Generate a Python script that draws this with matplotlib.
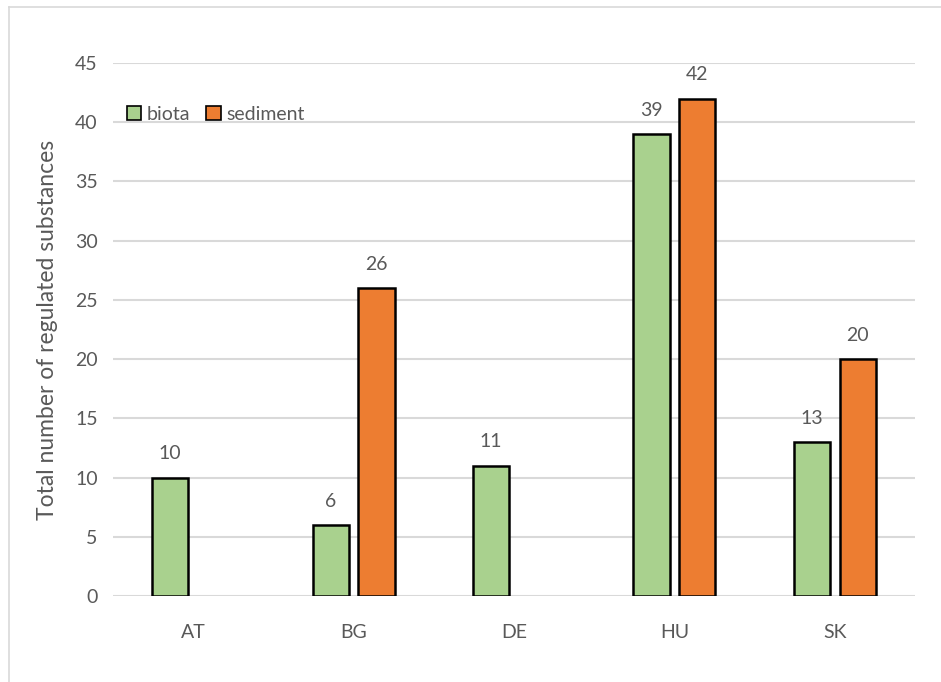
import numpy as np
import matplotlib.pyplot as plt
from matplotlib.lines import Line2D

countries = ["AT", "BG", "DE", "HU", "SK"]
biota = [10, 6, 11, 39, 13]
sediment = [None, 26, None, 42, 20]

GREEN = "#A9D18E"
ORANGE = "#ED7D31"
TEXT = "#595959"
GRID = "#D9D9D9"

plt.rcParams["font.family"] = ["Lato", "DejaVu Sans"]

W, H = 941, 682
fig = plt.figure(figsize=(W / 100, H / 100), dpi=100)
ax = fig.add_axes([113 / W, 1 - 596 / H, (915 - 113) / W, (596 - 63) / H])

x = np.arange(len(countries))
width = 0.225
off = 0.143

for i, (b, s) in enumerate(zip(biota, sediment)):
    if b is not None:
        ax.bar(x[i] - off, b, width, color=GREEN, edgecolor="black", linewidth=1.8, zorder=3)
        ax.annotate(str(b), (x[i] - off, b), xytext=(0, 11), textcoords="offset points",
                    ha="center", va="bottom", fontsize=14, color=TEXT)
    if s is not None:
        ax.bar(x[i] + off, s, width, color=ORANGE, edgecolor="black", linewidth=1.8, zorder=3)
        ax.annotate(str(s), (x[i] + off, s), xytext=(0, 11), textcoords="offset points",
                    ha="center", va="bottom", fontsize=14, color=TEXT)

ax.set_xlim(-0.5, len(countries) - 0.5)
ax.set_ylim(0, 45)
ax.set_yticks(range(0, 46, 5))
ax.set_xticks(x)
ax.set_xticklabels(countries)
ax.tick_params(axis="both", length=0, labelsize=14, colors=TEXT)
ax.tick_params(axis="x", pad=20)
ax.tick_params(axis="y", pad=11)
ax.grid(axis="y", color=GRID, linewidth=1.5, zorder=0)
for sp in ax.spines.values():
    sp.set_visible(False)

ax.set_ylabel("Total number of regulated substances", fontsize=16.5, color=TEXT, labelpad=12)

handles = [plt.Rectangle((0, 0), 1, 1, facecolor=GREEN, edgecolor="black", linewidth=1.2),
           plt.Rectangle((0, 0), 1, 1, facecolor=ORANGE, edgecolor="black", linewidth=1.2)]
leg = ax.legend(handles, ["biota", "sediment"], loc="upper left", bbox_to_anchor=(0.0, 0.945),
                ncol=2, frameon=False, fontsize=14, handlelength=0.75, handleheight=0.75,
                handletextpad=0.3, columnspacing=0.8, borderaxespad=0.3)
for t in leg.get_texts():
    t.set_color(TEXT)

# thin frame around the chart area
fig.add_artist(Line2D([9 / W, 1], [1 - 7 / H, 1 - 7 / H], color=GRID, linewidth=1.2))
fig.add_artist(Line2D([9 / W, 9 / W], [0, 1 - 7 / H], color=GRID, linewidth=1.2))

fig.savefig("out.png", dpi=100)
